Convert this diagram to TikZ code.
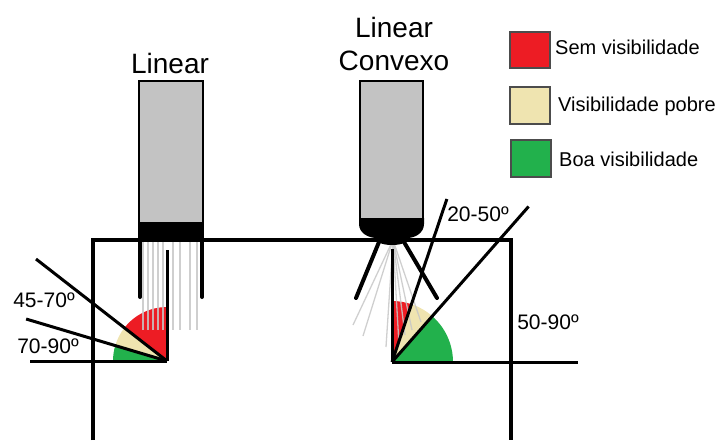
\documentclass[tikz,border=0pt]{standalone}
\usepackage{fontspec}
\setmainfont{Liberation Sans}
\definecolor{probegray}{HTML}{C3C3C3}
\definecolor{novis}{HTML}{ED1C24}
\definecolor{poorvis}{HTML}{EFE4B0}
\definecolor{goodvis}{HTML}{22B14C}

\begin{document}
\begin{tikzpicture}[x=1pt,y=1pt,line join=miter,
  wall/.style={line width=4pt},
  leg/.style={line width=4pt,line cap=round},
  axisline/.style={line width=3pt},
  beam/.style={line width=1.3pt,draw=black!22,opacity=0.85},
  probebody/.style={line width=2pt,fill=probegray},
  keybox/.style={line width=1.2pt,draw=black!70},
  title/.style={inner sep=0pt,font=\fontsize{28}{34}\selectfont},
  angtext/.style={inner sep=0pt,font=\fontsize{21}{25}\selectfont},
  keytext/.style={inner sep=0pt,anchor=west,font=\fontsize{20}{24}\selectfont}]
\useasboundingbox (0,0) rectangle (721,-440);

% apex points of the two viewing sectors
\coordinate (VL) at (167,-361);
\coordinate (VR) at (392,-362);

% ---- sectors, left probe ----
\fill[novis]   (VL) -- ++(90:54)    arc[start angle=90,    end angle=142.1, radius=54] -- cycle;
\fill[poorvis] (VL) -- ++(142.1:54) arc[start angle=142.1, end angle=163.4, radius=54] -- cycle;
\fill[goodvis] (VL) -- ++(163.4:54) arc[start angle=163.4, end angle=180,   radius=54] -- cycle;

% ---- sectors, right probe ----
\fill[novis]   (VR) -- ++(71.4:61) arc[start angle=71.4, end angle=90,   radius=61] -- cycle;
\fill[poorvis] (VR) -- ++(48.7:61) arc[start angle=48.7, end angle=71.4, radius=61] -- cycle;
\fill[goodvis] (VR) -- ++(0:61)    arc[start angle=0,    end angle=48.7, radius=61] -- cycle;

% ---- ultrasound beams, linear probe ----
\foreach \bx in {143,148,153,158,163,173,180,190,197}
  \draw[beam] (\bx,-240) -- (\bx,-330);

% ---- ultrasound beams, convex probe ----
\coordinate (src) at (393,-240);
\foreach \ex/\ey in {353/325,363/336,386/347,399/345,405/335,412/330,421/322}
  \draw[beam] (src) -- (\ex,-\ey);

% ---- linear probe ----
\draw[probebody] (139,-81) rectangle (203,-224);
\fill (138,-222) rectangle (204,-241);
\draw[leg] (140,-240) -- (140,-297);
\draw[leg] (202,-240) -- (202,-297);

% ---- convex probe ----
\draw[probebody] (360,-81) rectangle (423,-222);
\fill (359,-218) -- (359,-224) to[out=-90,in=180] (377,-238) -- (407,-238)
      to[out=0,in=-90] (424,-224) -- (424,-218) -- cycle;
\fill (392,-240) ellipse[x radius=15, y radius=5];
\draw[leg] (379,-242) -- (356,-298);
\draw[leg] (404,-242) -- (437,-298);

% ---- tissue block ----
\draw[wall] (93,-440) -- (93,-240) -- (511,-240) -- (511,-440);

% ---- reference axes and angle limits ----
\draw[axisline] (30,-361) -- (VL);
\draw[axisline] (167,-250) -- (VL);
\draw[axisline] (VL) -- ++(142.1:166);
\draw[axisline] (VL) -- ++(163.4:147);

\draw[axisline] (VR) -- (578,-362);
\draw[axisline] (392,-249) -- (VR);
\draw[axisline] (VR) -- ++(71.4:172);
\draw[axisline] (VR) -- ++(48.7:207);

% ---- titles ----
\node[title] (tlin) at (170,-63) {Linear};
\node[title,align=center] (tconv) at (394,-44) {Linear\\[-1pt]Convexo};

% ---- angle labels ----
\node[angtext] (a4570) at (44,-300) {45-70º};
\node[angtext] (a7090) at (48,-346) {70-90º};
\node[angtext] (a2050) at (478,-214) {20-50º};
\node[angtext] (a5090) at (548,-322) {50-90º};

% ---- legend ----
\draw[keybox,fill=novis]   (510,-32)  rectangle (550,-68);
\draw[keybox,fill=poorvis] (510,-87)  rectangle (550,-124);
\draw[keybox,fill=goodvis] (511,-140) rectangle (551,-177);
\node[keytext] (ksem) at (555,-47)  {Sem visibilidade};
\node[keytext] (kpob) at (558,-106) {Visibilidade pobre};
\node[keytext] (kboa) at (559,-159) {Boa visibilidade};
\end{tikzpicture}
\end{document}
